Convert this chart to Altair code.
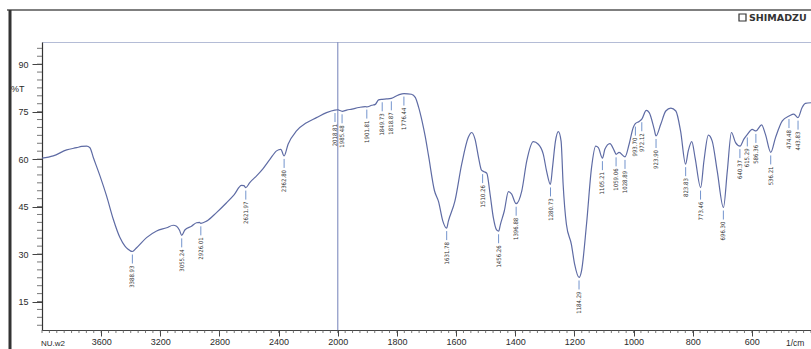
import altair as alt
import pandas as pd

# FTIR transmittance spectrum (wavenumber in 1/cm, transmittance in %T)
wavenumber = [
    4000, 3924, 3833, 3766, 3732, 3698, 3676, 3653, 3608, 3563, 3518, 3473,
    3439, 3420, 3389, 3360, 3293, 3225, 3157, 3113, 3090, 3070, 3055, 3034,
    2989, 2955, 2935, 2926, 2887, 2820, 2752, 2700, 2651, 2635, 2622, 2595,
    2549, 2505, 2459, 2414, 2385, 2363, 2336, 2279, 2211, 2144, 2076, 2020,
    2000, 1997, 1985, 1970, 1952, 1929, 1907, 1902, 1885, 1873, 1862, 1850,
    1835, 1819, 1794, 1776, 1751, 1738, 1727, 1715, 1704, 1693, 1673, 1659,
    1645, 1632, 1626, 1604, 1581, 1559, 1547, 1536, 1524, 1514, 1505, 1496,
    1485, 1474, 1463, 1456, 1450, 1437, 1423, 1412, 1397, 1378, 1361, 1339,
    1322, 1305, 1294, 1281, 1274, 1264, 1254, 1245, 1238, 1227, 1210, 1199,
    1184, 1176, 1159, 1142, 1128, 1119, 1105, 1097, 1080, 1065, 1059, 1049,
    1029, 1015, 1001, 994, 981, 972, 957, 947, 930, 924, 908, 891, 874, 857,
    841, 824, 815, 803, 792, 773, 762, 747, 734, 717, 696, 683, 669, 655,
    640, 627, 615, 599, 586, 567, 554, 536, 520, 497, 474, 458, 444, 430,
    419, 400,
]
transmittance = [
    60.3, 61.0, 62.9, 63.6, 64.0, 64.1, 63.6, 60.5, 54.7, 48.3, 41.0, 35.2,
    32.5, 31.6, 30.8, 32.0, 35.2, 37.3, 38.3, 39.1, 38.8, 37.5, 35.9, 37.6,
    38.8, 39.9, 40.0, 39.7, 40.4, 43.1, 46.2, 48.8, 51.7, 51.6, 51.0, 52.6,
    54.7, 57.0, 59.9, 62.6, 63.1, 61.0, 64.7, 68.9, 71.5, 73.1, 74.7, 75.5,
    75.6, 75.5, 75.1, 75.5, 75.8, 76.3, 76.6, 76.5, 77.0, 77.3, 78.7, 78.9,
    79.0, 79.2, 80.3, 80.7, 80.5, 79.5, 76.5, 72.0, 67.0, 61.0, 50.0, 46.5,
    40.5, 38.2, 40.4, 46.7, 58.4, 66.8, 68.4, 66.3, 60.5, 56.5, 56.0, 55.5,
    48.9, 41.5, 37.6, 37.2, 39.4, 43.6, 49.7, 48.9, 45.9, 49.9, 59.4, 65.5,
    64.7, 61.5, 56.2, 52.0, 57.3, 65.7, 68.7, 65.7, 52.0, 39.4, 33.0, 26.7,
    22.6, 24.6, 39.4, 57.3, 64.1, 63.6, 60.3, 63.1, 64.9, 62.6, 61.5, 62.1,
    60.7, 64.7, 70.0, 71.2, 71.9, 72.6, 75.4, 74.7, 69.4, 67.3, 71.0, 75.2,
    76.1, 75.2, 68.9, 58.4, 62.6, 65.5, 60.5, 51.0, 59.4, 67.6, 65.7, 56.2,
    44.7, 56.2, 68.4, 65.2, 64.1, 66.3, 67.8, 69.4, 68.9, 70.8, 67.8, 62.1,
    66.8, 72.1, 73.6, 74.2, 73.1, 76.3, 77.6, 77.8,
]

# Peak-picking table
peak_wn = [
    3388.93, 3055.24, 2926.01, 2621.97, 2362.80, 2018.81, 1985.48, 1901.81,
    1849.73, 1818.87, 1776.44, 1631.78, 1510.26, 1456.26, 1396.88, 1280.73,
    1184.29, 1105.21, 1059.06, 1028.89, 993.70, 972.12, 923.90, 823.83,
    773.46, 696.30, 640.37, 615.29, 586.36, 536.21, 474.48, 443.83,
]
peak_t = [
    30.8, 35.9, 39.7, 51.0, 61.0, 75.5, 75.1, 76.6,
    78.9, 79.2, 80.7, 38.2, 56.2, 37.2, 45.9, 52.0,
    22.6, 60.3, 61.5, 60.7, 71.2, 72.6, 67.3, 58.4,
    51.0, 44.7, 64.1, 67.8, 68.9, 62.1, 73.6, 73.1,
]

major_wn = [3600, 3200, 2800, 2400, 2000, 1800, 1600, 1400, 1200, 1000, 800, 600]
y_major = [15, 30, 45, 60, 75, 90]

W, H = 769, 288
LINE = "#5e6ba4"
INK = "#2b2b2b"

# Split abscissa: 4000-2000 compressed 2:1 relative to 2000-400
POS = "datum.wn >= 2000 ? (4000 - datum.wn) / 2 : 1000 + (2000 - datum.wn)"


def to_pos(w):
    return (4000 - w) / 2 if w >= 2000 else 1000 + (2000 - w)


xscale = alt.Scale(domain=[0, 2600], nice=False, zero=False)
yscale = alt.Scale(domain=[6, 97], nice=False, zero=False)

spec = pd.DataFrame({"wn": wavenumber, "T": transmittance})
peaks = pd.DataFrame({"wn": peak_wn, "T": peak_t})

x_axis = alt.Axis(
    values=[to_pos(w) for w in major_wn],
    labelExpr="datum.value <= 1000 ? format(4000 - 2 * datum.value, 'd') : format(3000 - datum.value, 'd')",
    tickSize=6, tickColor="#444", domainColor="#444", labelColor=INK,
    labelFontSize=9, labelPadding=1, grid=False, title=None,
    labelFont="Liberation Sans",
)
y_axis = alt.Axis(
    values=y_major, tickSize=10, tickColor="#444", domainColor="#333",
    domainWidth=1.2, labelColor=INK, labelFontSize=9, labelPadding=4,
    grid=False, title=None, labelFont="Liberation Sans",
)

curve = alt.Chart(spec).transform_calculate(pos=POS).mark_line(
    color=LINE, strokeWidth=1.2, interpolate="monotone"
).encode(
    x=alt.X("pos:Q", scale=xscale, axis=x_axis),
    y=alt.Y("T:Q", scale=yscale, axis=y_axis),
)

# Axis break at 2000 1/cm
split = alt.Chart(pd.DataFrame({"wn": [2000]})).transform_calculate(pos=POS).mark_rule(
    color="#8a96c4", strokeWidth=1.2
).encode(x=alt.X("pos:Q", scale=xscale), y=alt.value(0), y2=alt.value(H))

# Minor ticks
minor_y = pd.DataFrame({"v": [v / 2 for v in range(15, 195, 5)]})
ytick = alt.Chart(minor_y).mark_rule(color="#555", strokeWidth=0.8).encode(
    y=alt.Y("v:Q", scale=yscale), x=alt.value(-5), x2=alt.value(0)
)
minor_x = pd.DataFrame({"p": list(range(0, 2601, 25))})
xtick = alt.Chart(minor_x).mark_rule(color="#555", strokeWidth=0.8).encode(
    x=alt.X("p:Q", scale=xscale), y=alt.value(H), y2=alt.value(H + 3)
)

# Peak markers and labels
ptick = alt.Chart(peaks).transform_calculate(pos=POS).mark_rule(
    color="#4f78c0", strokeWidth=0.8, yOffset=3, y2Offset=12
).encode(x=alt.X("pos:Q", scale=xscale), y=alt.Y("T:Q", scale=yscale), y2="T:Q")
ptext = alt.Chart(peaks).transform_calculate(pos=POS).mark_text(
    angle=270, align="right", baseline="middle", yOffset=14,
    fontSize=6, font="Liberation Sans Narrow, DejaVu Sans Condensed, sans-serif",
    color="#333",
).encode(
    x=alt.X("pos:Q", scale=xscale), y=alt.Y("T:Q", scale=yscale),
    text=alt.Text("wn:Q", format=".2f"),
)

one = pd.DataFrame({"a": [0]})
frame_top = alt.Chart(one).mark_rule(color="#555", strokeWidth=1.5).encode(
    x=alt.value(-35), x2=alt.value(W + 5), y=alt.value(-32)
)
frame_left = alt.Chart(one).mark_rule(color="#333", strokeWidth=3).encode(
    x=alt.value(-32), y=alt.value(-32), y2=alt.value(H + 25)
)
logo_box = alt.Chart(one).mark_rect(fill="white", stroke="#333", strokeWidth=1.2).encode(
    x=alt.value(697), x2=alt.value(704), y=alt.value(-28), y2=alt.value(-21)
)
logo = alt.Chart(one).mark_text(
    text="SHIMADZU", align="left", baseline="middle", fontSize=9.5,
    fontWeight="bold", font="DejaVu Sans", color="#333",
).encode(x=alt.value(707), y=alt.value(-24.5))
pct = alt.Chart(one).mark_text(
    text="%T", align="left", baseline="middle", fontSize=9,
    font="Liberation Sans", color=INK,
).encode(x=alt.value(-31), y=alt.value(47))
nuw = alt.Chart(one).mark_text(
    text="NU.w2", align="left", baseline="bottom", fontSize=8,
    font="Liberation Sans", color=INK,
).encode(x=alt.value(-1), y=alt.value(H + 18))
unit = alt.Chart(one).mark_text(
    text="1/cm", align="left", baseline="bottom", fontSize=8.5,
    font="Liberation Sans", color=INK,
).encode(x=alt.value(744), y=alt.value(H + 18))

chart = alt.layer(
    frame_top, frame_left, logo_box, logo, pct, nuw, unit,
    split, ytick, xtick, curve, ptick, ptext,
).properties(
    width=W, height=H,
    autosize=alt.AutoSizeParams(type="none"),
    padding={"left": 42, "top": 42, "right": 0, "bottom": 19},
    background="white",
).configure_view(stroke="#b4bcd6", strokeWidth=1)

chart.save("out.html", embed_options={"renderer": "svg", "actions": False})
